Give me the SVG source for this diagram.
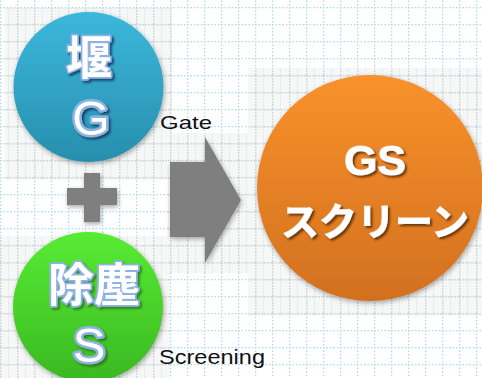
<svg xmlns="http://www.w3.org/2000/svg" width="482" height="378" viewBox="0 0 482 378">
  <defs>
    <pattern id="bgrid" x="0" y="7" width="17" height="17" patternUnits="userSpaceOnUse">
      <line x1="0" y1="0.5" x2="17" y2="0.5" stroke="#acd9ec" stroke-width="1.5" stroke-dasharray="1.5 2"/>
      <line x1="0.5" y1="0" x2="0.5" y2="17" stroke="#acd9ec" stroke-width="1.5" stroke-dasharray="1.5 2"/>
    </pattern>
    <pattern id="ggrid" x="0" y="7" width="17" height="17" patternUnits="userSpaceOnUse">
      <rect width="17" height="17" fill="#f6f8f8"/>
      <line x1="0" y1="0.5" x2="17" y2="0.5" stroke="#d2dadc" stroke-width="2" stroke-dasharray="2 1"/>
      <line x1="0.5" y1="0" x2="0.5" y2="17" stroke="#d2dadc" stroke-width="2" stroke-dasharray="2 1"/>
      <line x1="8.5" y1="0" x2="8.5" y2="17" stroke="#e2e8ea" stroke-width="1" stroke-dasharray="2 1"/>
    </pattern>
    <linearGradient id="gBlue" x1="0" y1="0" x2="0" y2="1">
      <stop offset="0" stop-color="#3bb8dc"/>
      <stop offset="1" stop-color="#288ead"/>
    </linearGradient>
    <linearGradient id="gGreen" x1="0" y1="0" x2="0" y2="1">
      <stop offset="0" stop-color="#58ec33"/>
      <stop offset="1" stop-color="#3ab822"/>
    </linearGradient>
    <linearGradient id="gOrange" x1="0" y1="0" x2="0" y2="1">
      <stop offset="0" stop-color="#f9922b"/>
      <stop offset="1" stop-color="#d2701f"/>
    </linearGradient>
    <filter id="shadow" x="-20%" y="-20%" width="140%" height="140%">
      <feDropShadow dx="1" dy="2" stdDeviation="2.5" flood-color="#000" flood-opacity="0.35"/>
    </filter>
    <filter id="tshadowB" x="-20%" y="-20%" width="140%" height="140%">
      <feDropShadow dx="2" dy="2" stdDeviation="1" flood-color="#0c2c55" flood-opacity="0.8"/>
    </filter>
    <filter id="tshadowG" x="-20%" y="-20%" width="140%" height="140%">
      <feDropShadow dx="2" dy="2" stdDeviation="1" flood-color="#1a4a10" flood-opacity="0.6"/>
    </filter>
    <filter id="tshadowO" x="-20%" y="-20%" width="140%" height="140%">
      <feDropShadow dx="2" dy="2" stdDeviation="1.2" flood-color="#5a2a05" flood-opacity="0.85"/>
    </filter>
  </defs>
  <style>
    .lbl { fill: #ffffff; stroke: #8db3e4; stroke-width: 3.5; paint-order: stroke; stroke-linejoin: round; text-anchor: middle; }
    .thick { stroke-width: 5; }
    .cjk { font-family: "Noto Sans CJK JP", "Noto Sans CJK SC", sans-serif; font-weight: 700; }
    .lat { font-family: "Liberation Sans", Arial, sans-serif; }
    .big { fill: #ffffff; stroke: #f0e6dc; stroke-width: 1; paint-order: stroke; text-anchor: middle; font-weight: 700; }
    .cap { fill: #111111; font-family: "Liberation Sans", Arial, sans-serif; }
    .gray { fill: #7f7f7f; }
  </style>

  <rect width="482" height="378" fill="#ffffff"/>
  <rect width="482" height="378" fill="url(#bgrid)"/>
  <!-- textured image backgrounds -->
  <rect x="5" y="8" width="167" height="172" fill="url(#ggrid)"/>
  <rect x="0" y="236" width="170" height="142" fill="url(#ggrid)"/>
  <rect x="168" y="133" width="82" height="140" fill="url(#ggrid)"/>
  <rect x="248" y="68" width="234" height="248" fill="url(#ggrid)"/>

  <g id="connectors">
    <path id="plus" class="gray" filter="url(#shadow)" d="M84,173 H100 V188 H117 V205 H100 V222 H84 V205 H67 V188 H84 Z"/>
    <polygon id="arrow" class="gray" filter="url(#shadow)" points="170,162 205,162 205,137 241,200 205,263 205,237 170,237"/>
  </g>

  <g id="node-gate">
    <circle cx="88.5" cy="87" r="75" fill="url(#gBlue)" filter="url(#shadow)"/>
    <text class="lbl cjk" x="89" y="74" font-size="46" filter="url(#tshadowB)">堰</text>
    <text class="lbl thick lat" x="91" y="135" font-size="48" filter="url(#tshadowB)">G</text>
    <text class="cap" x="160" y="129" font-size="19" textLength="52" lengthAdjust="spacingAndGlyphs">Gate</text>
  </g>

  <g id="node-screening">
    <circle cx="88" cy="307" r="75" fill="url(#gGreen)" filter="url(#shadow)"/>
    <text class="lbl cjk" x="94" y="301" font-size="46" filter="url(#tshadowG)">除塵</text>
    <text class="lbl thick lat" x="89" y="362" font-size="49" filter="url(#tshadowG)">S</text>
    <text class="cap" x="159" y="364" font-size="21" textLength="106" lengthAdjust="spacingAndGlyphs">Screening</text>
  </g>

  <g id="node-gs">
    <circle cx="370" cy="188" r="113" fill="url(#gOrange)" filter="url(#shadow)"/>
    <text class="big lat" x="375" y="175" font-size="43" filter="url(#tshadowO)">GS</text>
    <text class="big cjk" x="375" y="235" font-size="38" filter="url(#tshadowO)">スクリーン</text>
  </g>
</svg>
